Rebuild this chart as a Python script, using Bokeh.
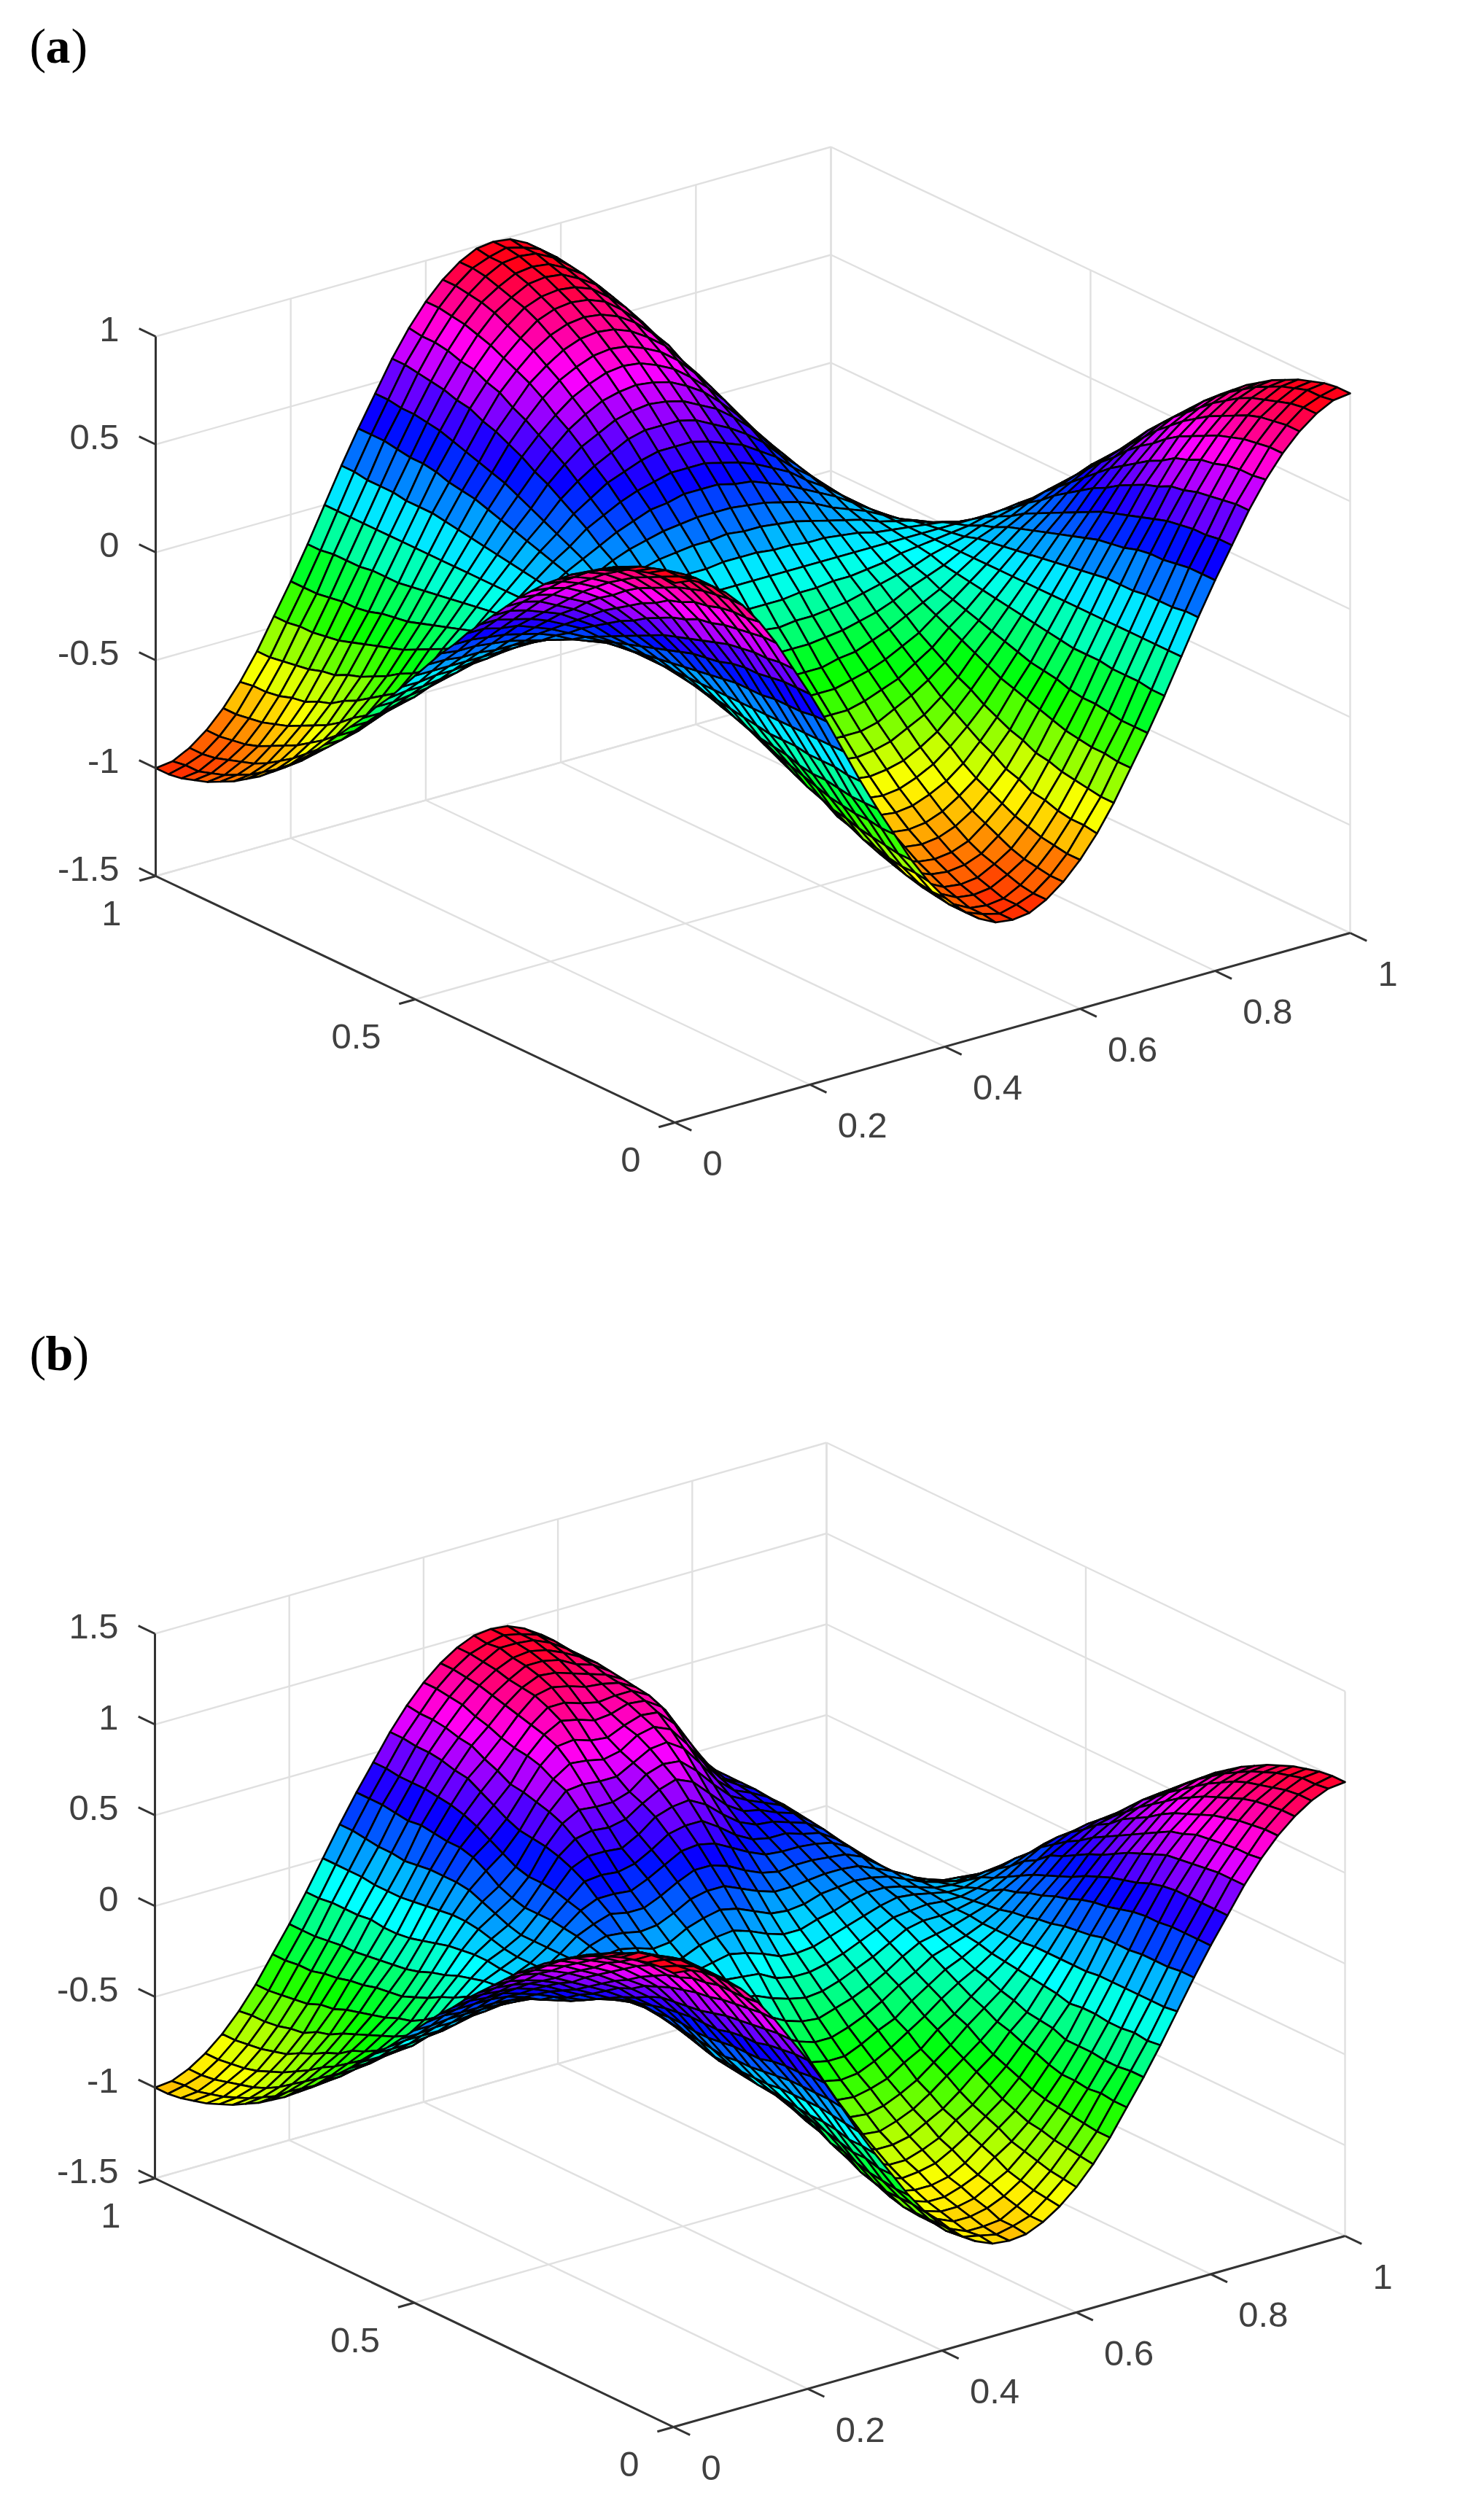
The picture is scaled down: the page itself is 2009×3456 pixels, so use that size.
import colorsys
from bokeh.plotting import figure
from bokeh.embed import file_html
from bokeh.resources import INLINE
from bokeh.models import Range1d
from bokeh.core.properties import value

X_TICKS = [0, 0.2, 0.4, 0.6, 0.8, 1]
X_LABELS = ["0", "0.2", "0.4", "0.6", "0.8", "1"]
Y_TICKS = [0, 0.5, 1]
Y_LABELS = ["0", "0.5", "1"]
Z_TICKS_A = [-1.5, -1, -0.5, 0, 0.5, 1]
Z_LABELS_A = ["-1.5", "-1", "-0.5", "0", "0.5", "1"]
Z_TICKS_B = [-1.5, -1, -0.5, 0, 0.5, 1, 1.5]
Z_LABELS_B = ["-1.5", "-1", "-0.5", "0", "0.5", "1", "1.5"]

# surface heights (hundredths), rows = y from 0 to 1, columns = x from 0 to 1
Z_A = [
[100,99,95,89,81,71,59,45,31,16,0,-16,-31,-45,-59,-71,-81,-89,-95,-99,-100,-99,-95,-89,-81,-71,-59,-45,-31,-16,0,16,31,45,59,71,81,89,95,99,100],
[100,98,95,89,81,70,59,45,31,16,0,-16,-31,-45,-59,-70,-81,-89,-95,-98,-100,-98,-95,-89,-81,-70,-59,-45,-31,-16,0,16,31,45,59,70,81,89,95,98,100],
[99,98,94,88,80,70,58,44,31,15,0,-15,-31,-44,-58,-70,-80,-88,-94,-98,-99,-98,-94,-88,-80,-70,-58,-44,-31,-15,0,15,31,44,58,70,80,88,94,98,99],
[97,96,92,87,79,69,57,44,30,15,0,-15,-30,-44,-57,-69,-79,-87,-92,-96,-97,-96,-92,-87,-79,-69,-57,-44,-30,-15,0,15,30,44,57,69,79,87,92,96,97],
[95,94,90,85,77,67,56,43,29,15,0,-15,-29,-43,-56,-67,-77,-85,-90,-94,-95,-94,-90,-85,-77,-67,-56,-43,-29,-15,0,15,29,43,56,67,77,85,90,94,95],
[92,91,88,82,75,66,54,42,29,14,0,-14,-29,-42,-54,-66,-75,-82,-88,-91,-92,-91,-88,-82,-75,-66,-54,-42,-29,-14,0,14,29,42,54,66,75,82,88,91,92],
[89,88,85,79,72,63,53,40,28,14,0,-14,-28,-40,-53,-63,-72,-79,-85,-88,-89,-88,-85,-79,-72,-63,-53,-40,-28,-14,0,14,28,40,53,63,72,79,85,88,89],
[85,84,81,76,69,61,50,38,26,14,0,-14,-26,-38,-50,-61,-69,-76,-81,-84,-85,-84,-81,-76,-69,-61,-50,-38,-26,-14,0,14,26,38,50,61,69,76,81,84,85],
[81,80,77,72,66,57,48,36,25,13,0,-13,-25,-36,-48,-57,-66,-72,-77,-80,-81,-80,-77,-72,-66,-57,-48,-36,-25,-13,0,13,25,36,48,57,66,72,77,80,81],
[76,75,72,68,62,54,45,34,24,12,0,-12,-24,-34,-45,-54,-62,-68,-72,-75,-76,-75,-72,-68,-62,-54,-45,-34,-24,-12,0,12,24,34,45,54,62,68,72,75,76],
[71,70,67,63,57,50,42,32,22,11,0,-11,-22,-32,-42,-50,-57,-63,-67,-70,-71,-70,-67,-63,-57,-50,-42,-32,-22,-11,0,11,22,32,42,50,57,63,67,70,71],
[65,64,62,58,53,46,38,29,20,10,0,-10,-20,-29,-38,-46,-53,-58,-62,-64,-65,-64,-62,-58,-53,-46,-38,-29,-20,-10,0,10,20,29,38,46,53,58,62,64,65],
[59,58,56,52,48,42,35,26,18,9,0,-9,-18,-26,-35,-42,-48,-52,-56,-58,-59,-58,-56,-52,-48,-42,-35,-26,-18,-9,0,9,18,26,35,42,48,52,56,58,59],
[52,52,50,46,42,37,31,23,16,8,0,-8,-16,-23,-31,-37,-42,-46,-50,-52,-52,-52,-50,-46,-42,-37,-31,-23,-16,-8,0,8,16,23,31,37,42,46,50,52,52],
[45,45,43,40,37,32,27,20,14,7,0,-7,-14,-20,-27,-32,-37,-40,-43,-45,-45,-45,-43,-40,-37,-32,-27,-20,-14,-7,0,7,14,20,27,32,37,40,43,45,45],
[38,38,36,34,31,27,23,17,12,6,0,-6,-12,-17,-23,-27,-31,-34,-36,-38,-38,-38,-36,-34,-31,-27,-23,-17,-12,-6,0,6,12,17,23,27,31,34,36,38,38],
[31,31,29,28,25,22,18,14,10,5,0,-5,-10,-14,-18,-22,-25,-28,-29,-31,-31,-31,-29,-28,-25,-22,-18,-14,-10,-5,0,5,10,14,18,22,25,28,29,31,31],
[23,23,22,21,19,17,14,10,7,4,0,-4,-7,-10,-14,-17,-19,-21,-22,-23,-23,-23,-22,-21,-19,-17,-14,-10,-7,-4,0,4,7,10,14,17,19,21,22,23,23],
[16,15,15,14,13,11,9,7,5,2,0,-2,-5,-7,-9,-11,-13,-14,-15,-15,-16,-15,-15,-14,-13,-11,-9,-7,-5,-2,0,2,5,7,9,11,13,14,15,15,16],
[8,8,7,7,6,6,5,4,2,1,0,-1,-2,-4,-5,-6,-6,-7,-7,-8,-8,-8,-7,-7,-6,-6,-5,-4,-2,-1,0,1,2,4,5,6,6,7,7,8,8],
[0,0,0,0,0,0,0,0,0,0,0,0,0,0,0,0,0,0,0,0,0,0,0,0,0,0,0,0,0,0,0,0,0,0,0,0,0,0,0,0,0],
[-8,-8,-7,-7,-6,-6,-5,-4,-2,-1,0,1,2,4,5,6,6,7,7,8,8,8,7,7,6,6,5,4,2,1,0,-1,-2,-4,-5,-6,-6,-7,-7,-8,-8],
[-16,-15,-15,-14,-13,-11,-9,-7,-5,-2,0,2,5,7,9,11,13,14,15,15,16,15,15,14,13,11,9,7,5,2,0,-2,-5,-7,-9,-11,-13,-14,-15,-15,-16],
[-23,-23,-22,-21,-19,-17,-14,-10,-7,-4,0,4,7,10,14,17,19,21,22,23,23,23,22,21,19,17,14,10,7,4,0,-4,-7,-10,-14,-17,-19,-21,-22,-23,-23],
[-31,-31,-29,-28,-25,-22,-18,-14,-10,-5,0,5,10,14,18,22,25,28,29,31,31,31,29,28,25,22,18,14,10,5,0,-5,-10,-14,-18,-22,-25,-28,-29,-31,-31],
[-38,-38,-36,-34,-31,-27,-23,-17,-12,-6,0,6,12,17,23,27,31,34,36,38,38,38,36,34,31,27,23,17,12,6,0,-6,-12,-17,-23,-27,-31,-34,-36,-38,-38],
[-45,-45,-43,-40,-37,-32,-27,-20,-14,-7,0,7,14,20,27,32,37,40,43,45,45,45,43,40,37,32,27,20,14,7,0,-7,-14,-20,-27,-32,-37,-40,-43,-45,-45],
[-52,-52,-50,-46,-42,-37,-31,-23,-16,-8,0,8,16,23,31,37,42,46,50,52,52,52,50,46,42,37,31,23,16,8,0,-8,-16,-23,-31,-37,-42,-46,-50,-52,-52],
[-59,-58,-56,-52,-48,-42,-35,-26,-18,-9,0,9,18,26,35,42,48,52,56,58,59,58,56,52,48,42,35,26,18,9,0,-9,-18,-26,-35,-42,-48,-52,-56,-58,-59],
[-65,-64,-62,-58,-53,-46,-38,-29,-20,-10,0,10,20,29,38,46,53,58,62,64,65,64,62,58,53,46,38,29,20,10,0,-10,-20,-29,-38,-46,-53,-58,-62,-64,-65],
[-71,-70,-67,-63,-57,-50,-42,-32,-22,-11,0,11,22,32,42,50,57,63,67,70,71,70,67,63,57,50,42,32,22,11,0,-11,-22,-32,-42,-50,-57,-63,-67,-70,-71],
[-76,-75,-72,-68,-62,-54,-45,-34,-24,-12,0,12,24,34,45,54,62,68,72,75,76,75,72,68,62,54,45,34,24,12,0,-12,-24,-34,-45,-54,-62,-68,-72,-75,-76],
[-81,-80,-77,-72,-66,-57,-48,-36,-25,-13,0,13,25,36,48,57,66,72,77,80,81,80,77,72,66,57,48,36,25,13,0,-13,-25,-36,-48,-57,-66,-72,-77,-80,-81],
[-85,-84,-81,-76,-69,-61,-50,-38,-26,-14,0,14,26,38,50,61,69,76,81,84,85,84,81,76,69,61,50,38,26,14,0,-14,-26,-38,-50,-61,-69,-76,-81,-84,-85],
[-89,-88,-85,-79,-72,-63,-53,-40,-28,-14,0,14,28,40,53,63,72,79,85,88,89,88,85,79,72,63,53,40,28,14,0,-14,-28,-40,-53,-63,-72,-79,-85,-88,-89],
[-92,-91,-88,-82,-75,-66,-54,-42,-29,-14,0,14,29,42,54,66,75,82,88,91,92,91,88,82,75,66,54,42,29,14,0,-14,-29,-42,-54,-66,-75,-82,-88,-91,-92],
[-95,-94,-90,-85,-77,-67,-56,-43,-29,-15,0,15,29,43,56,67,77,85,90,94,95,94,90,85,77,67,56,43,29,15,0,-15,-29,-43,-56,-67,-77,-85,-90,-94,-95],
[-97,-96,-92,-87,-79,-69,-57,-44,-30,-15,0,15,30,44,57,69,79,87,92,96,97,96,92,87,79,69,57,44,30,15,0,-15,-30,-44,-57,-69,-79,-87,-92,-96,-97],
[-99,-98,-94,-88,-80,-70,-58,-44,-31,-15,0,15,31,44,58,70,80,88,94,98,99,98,94,88,80,70,58,44,31,15,0,-15,-31,-44,-58,-70,-80,-88,-94,-98,-99],
[-100,-98,-95,-89,-81,-70,-59,-45,-31,-16,0,16,31,45,59,70,81,89,95,98,100,98,95,89,81,70,59,45,31,16,0,-16,-31,-45,-59,-70,-81,-89,-95,-98,-100],
[-100,-99,-95,-89,-81,-71,-59,-45,-31,-16,0,16,31,45,59,71,81,89,95,99,100,99,95,89,81,71,59,45,31,16,0,-16,-31,-45,-59,-71,-81,-89,-95,-99,-100],
]

# panel (b): how far the noisy surface sits from the smooth one, estimated by eye (hundredths)
Z_B_OFFSET = [
[0,0,0,0,0,0,0,0,0,0,0,0,0,0,0,0,0,0,0,0,0,0,0,0,0,0,0,0,0,0,0,0,0,0,0,0,0,0,0,0,0],
[0,0,0,0,0,0,0,0,0,0,1,1,1,0,0,0,0,-1,-1,0,0,0,0,1,1,0,0,0,0,-1,-1,0,0,0,0,0,0,0,0,0,0],
[0,0,1,1,1,0,0,0,-1,0,1,1,1,1,0,0,-1,-1,-1,-1,0,0,1,1,1,1,0,0,-1,-1,-1,0,0,1,1,0,0,0,0,0,0],
[0,1,1,2,1,1,0,-1,-1,0,1,2,2,1,0,-1,-2,-2,-1,-1,0,1,1,2,2,1,0,-1,-2,-2,-1,0,1,1,1,0,0,0,0,0,0],
[0,1,1,2,2,1,0,-1,-2,-1,1,2,2,2,1,-1,-2,-2,-2,-1,0,1,2,2,2,1,0,-1,-2,-2,-1,0,1,2,1,1,0,0,0,0,0],
[0,0,1,1,2,1,0,-1,-2,-2,0,1,2,3,2,0,-1,-2,-2,-2,-1,1,2,3,2,1,-1,-2,-2,-2,-1,0,1,2,2,1,0,0,0,0,0],
[0,0,0,1,1,1,0,-1,-2,-2,-1,1,2,3,2,1,-1,-2,-3,-2,-1,0,2,3,3,1,0,-2,-3,-2,-1,0,1,2,2,1,0,0,0,0,0],
[0,0,0,0,1,1,1,-1,-2,-2,-2,0,1,2,3,2,0,-2,-3,-3,-1,0,2,3,3,2,0,-1,-2,-3,-2,0,1,1,2,1,0,0,0,0,0],
[0,0,-1,-1,0,1,1,0,-1,-2,-2,-1,1,2,3,2,1,-1,-2,-3,-2,0,1,3,3,2,1,-1,-2,-2,-2,-1,0,1,1,1,0,0,0,0,0],
[0,0,-1,-1,-1,0,1,1,0,-2,-3,-2,0,2,3,3,1,-1,-2,-3,-2,-1,1,2,3,3,1,0,-2,-2,-2,-1,0,1,1,0,0,0,0,0,0],
[0,0,-1,-2,-1,-1,1,2,1,-1,-2,-2,-1,1,3,3,2,0,-2,-3,-3,-1,0,2,3,3,2,0,-1,-2,-2,-1,0,0,0,0,0,0,0,0,0],
[0,0,-1,-2,-2,-1,0,2,2,1,-1,-3,-2,0,2,4,3,1,-2,-3,-3,-2,0,1,3,3,3,1,-1,-2,-2,-2,-1,0,0,0,0,0,0,0,0],
[0,0,-1,-1,-2,-2,0,1,2,2,0,-2,-3,-1,1,3,4,2,-1,-3,-3,-2,-1,1,2,4,3,1,0,-2,-3,-2,-1,-1,0,0,1,1,0,0,0],
[0,0,0,-1,-2,-2,-1,1,2,2,1,-1,-3,-2,0,3,4,3,0,-2,-4,-3,-1,0,2,3,4,2,0,-2,-3,-3,-2,-1,0,1,1,1,1,0,0],
[0,0,0,0,-1,-2,-2,0,2,3,2,0,-2,-3,-1,2,4,4,1,-2,-4,-4,-2,0,1,3,4,3,1,-1,-3,-3,-2,-1,0,1,2,1,1,0,0],
[0,0,1,1,0,-1,-2,-1,1,3,3,1,-2,-3,-2,1,3,4,2,-1,-4,-4,-3,-1,1,3,4,4,2,-1,-3,-4,-3,-1,1,2,2,2,1,0,0],
[0,0,1,1,1,0,-2,-2,0,2,3,2,-1,-3,-3,0,3,4,3,0,-3,-4,-3,-1,0,2,4,5,3,0,-2,-4,-3,-2,0,2,3,2,1,0,0],
[0,1,1,2,1,0,-1,-2,-1,1,3,3,0,-3,-3,-1,2,4,4,1,-2,-4,-4,-2,0,2,4,5,4,1,-2,-4,-4,-2,0,2,3,2,1,0,0],
[0,1,1,2,2,1,-1,-2,-2,0,2,3,2,-2,-4,-2,1,4,4,3,-1,-4,-4,-3,-1,1,3,5,4,2,-1,-3,-4,-3,-1,1,2,2,1,0,0],
[0,1,1,1,2,1,0,-2,-3,-1,2,3,3,0,-3,-3,0,3,5,4,1,-3,-5,-4,-2,1,3,5,5,3,0,-3,-4,-3,-2,0,1,1,0,0,0],
[0,0,1,1,1,1,0,-1,-3,-2,0,3,4,2,-2,-4,-2,2,4,5,2,-2,-5,-5,-2,0,3,5,5,3,0,-3,-4,-4,-2,-1,0,0,0,0,0],
[0,0,0,0,0,0,0,-1,-2,-3,-1,2,4,3,0,-4,-3,1,4,5,3,-1,-4,-5,-3,0,2,4,5,4,1,-2,-4,-4,-3,-2,-1,0,0,0,0],
[0,0,0,-1,-1,-1,0,0,-2,-3,-2,1,3,4,1,-3,-4,-1,3,5,4,1,-3,-5,-4,-1,2,4,5,4,2,-1,-4,-4,-3,-2,-1,-1,0,0,0],
[0,0,-1,-1,-2,-2,-1,0,-1,-3,-3,-1,3,4,3,-2,-4,-2,2,5,5,2,-2,-5,-5,-2,1,4,6,5,2,-1,-3,-4,-3,-2,-2,-1,0,0,0],
[0,0,-1,-2,-2,-2,-1,0,0,-2,-3,-2,1,4,4,0,-4,-3,1,4,5,3,0,-4,-5,-3,1,4,6,6,3,0,-3,-4,-4,-3,-2,-1,-1,0,0],
[0,0,-1,-2,-3,-3,-2,0,1,-1,-3,-3,0,3,5,2,-3,-4,-1,3,5,5,1,-4,-6,-4,0,3,6,6,4,1,-2,-4,-4,-3,-2,-1,-1,0,0],
[0,0,-1,-2,-3,-3,-2,-1,1,1,-2,-4,-2,2,5,4,-1,-5,-3,2,5,6,3,-2,-6,-5,-1,3,6,7,5,1,-2,-4,-4,-3,-2,-1,0,0,0],
[0,0,0,-1,-2,-3,-3,-1,1,2,0,-3,-4,0,4,5,2,-3,-5,-1,4,7,5,0,-5,-6,-2,2,6,7,5,2,-2,-4,-4,-3,-1,0,0,0,0],
[0,0,0,0,-1,-2,-3,-2,0,2,2,-1,-4,-3,2,5,4,-1,-5,-4,2,6,7,3,-3,-6,-4,1,5,7,6,3,-1,-4,-4,-2,0,1,1,0,0],
[0,0,1,1,0,-1,-2,-2,0,2,3,1,-3,-4,0,4,6,2,-3,-5,-1,5,8,6,0,-5,-5,0,4,7,6,3,0,-3,-3,-1,1,2,1,0,0],
[0,1,1,1,1,0,-1,-2,-1,1,3,3,0,-3,-3,2,5,5,0,-5,-4,3,8,8,3,-3,-6,-2,3,6,6,4,1,-2,-2,0,2,2,1,0,0],
[0,1,1,2,1,1,0,-1,-1,0,2,3,2,-1,-3,0,4,6,3,-3,-5,0,6,9,6,0,-5,-4,1,5,6,4,1,-1,-1,1,2,2,1,0,0],
[0,0,1,1,2,1,1,0,-1,-1,1,2,3,1,-2,-2,2,5,5,0,-4,-2,4,8,8,3,-3,-4,0,4,5,4,2,0,0,1,2,1,1,0,0],
[0,0,0,1,1,1,1,0,-1,-1,0,1,2,2,0,-2,0,3,5,2,-2,-3,1,6,8,5,0,-3,-1,2,4,4,2,1,1,1,1,1,0,0,0],
[0,0,0,0,1,1,1,1,0,-1,-1,0,1,2,1,-1,-1,2,4,3,0,-2,0,4,6,5,2,-2,-2,1,3,3,2,1,1,1,1,0,0,0,0],
[0,0,0,0,0,0,1,1,0,0,-1,-1,1,1,1,0,-1,1,2,3,1,-1,-1,2,4,4,2,-1,-1,0,2,2,2,1,0,0,0,0,0,0,0],
[0,0,0,0,0,0,0,1,0,0,-1,-1,0,1,1,0,-1,0,1,2,1,0,-1,1,3,3,2,0,-1,0,1,1,1,1,0,0,0,0,0,0,0],
[0,0,0,0,0,0,0,0,0,0,0,-1,0,0,1,0,0,0,1,1,1,0,0,0,2,2,1,0,-1,0,0,1,1,0,0,0,0,0,0,0,0],
[0,0,0,0,0,0,0,0,0,0,0,0,0,0,0,0,0,0,0,1,0,0,0,0,1,1,1,0,0,0,0,0,0,0,0,0,0,0,0,0,0],
[0,0,0,0,0,0,0,0,0,0,0,0,0,0,0,0,0,0,0,0,0,0,0,0,0,1,0,0,0,0,0,0,0,0,0,0,0,0,0,0,0],
[0,0,0,0,0,0,0,0,0,0,0,0,0,0,0,0,0,0,0,0,0,0,0,0,0,0,0,0,0,0,0,0,0,0,0,0,0,0,0,0,0],
]

GRID_COL = "#e0e0e0"
AXIS_COL = "#333333"
TEXT_COL = "#404040"
FONT = "Liberation Sans"
SERIF = "Liberation Serif"

# matlab-like hsv colormap with 64 steps
HSV64 = ["#%02x%02x%02x" % tuple(round(255 * c) for c in colorsys.hsv_to_rgb(k / 64, 1, 1)) for k in range(64)]

p = figure(width=1993, height=3440, output_backend="svg", toolbar_location=None,
           x_range=Range1d(0, 1993), y_range=Range1d(3440, 0), min_border=0,
           background_fill_color="white", border_fill_color="white", outline_line_color=None)
p.axis.visible = False
p.grid.visible = False


def panel(zrows, front, ex, ey, ez, ztop, zticks, zlabels, cmin, cmax):
    def pr(x, y, z):
        return (front[0] + x * ex[0] + y * ey[0], front[1] + x * ex[1] + y * ey[1] + (z + 1.5) * ez)

    def seg(a, b):
        pa, pb = pr(*a), pr(*b)
        return [pa[0], pb[0]], [pa[1], pb[1]]

    # back walls and floor
    grid = []
    for t in X_TICKS:
        grid.append(seg((t, 0, -1.5), (t, 1, -1.5)))
        grid.append(seg((t, 1, -1.5), (t, 1, ztop)))
    for t in Y_TICKS:
        grid.append(seg((0, t, -1.5), (1, t, -1.5)))
        grid.append(seg((1, t, -1.5), (1, t, ztop)))
    for t in zticks:
        grid.append(seg((0, 1, t), (1, 1, t)))
        grid.append(seg((1, 1, t), (1, 0, t)))
    p.multi_line([g[0] for g in grid], [g[1] for g in grid], line_color=GRID_COL, line_width=2.4)

    # surface, painted from the far corner to the near corner
    n = len(zrows)
    xs, ys, cols = [], [], []
    for j in range(n - 2, -1, -1):
        for i in range(n - 2, -1, -1):
            c = [(i, j), (i + 1, j), (i + 1, j + 1), (i, j + 1)]
            pts = [pr(a / (n - 1), b / (n - 1), zrows[b][a]) for a, b in c]
            xs.append([q[0] for q in pts])
            ys.append([q[1] for q in pts])
            k = int((zrows[j][i] - cmin) / (cmax - cmin) * 64)
            cols.append(HSV64[max(0, min(k, 63))])
    p.patches(xs, ys, fill_color=cols, line_color="black", line_width=2.6, line_join="round")

    # axes and ticks
    ax = [seg((0, 1, -1.5), (0, 1, ztop)), seg((0, 0, -1.5), (1, 0, -1.5)), seg((0, 0, -1.5), (0, 1, -1.5))]
    for t in X_TICKS:
        ax.append(seg((t, 0, -1.5), (t, -0.032, -1.5)))
    for t in Y_TICKS:
        ax.append(seg((0, t, -1.5), (-0.024, t, -1.5)))
    for t in zticks:
        ax.append(seg((0, 1, t), (0, 1.032, t)))
    p.multi_line([g[0] for g in ax], [g[1] for g in ax], line_color=AXIS_COL, line_width=3)

    # tick labels
    def labels(ticks, texts, pos, dx, dy, align):
        pts = [pos(t) for t in ticks]
        p.text([q[0] + dx for q in pts], [q[1] + dy for q in pts], text=texts, text_align=align,
               text_baseline="middle", text_color=TEXT_COL, text_font=value(FONT), text_font_size="49px")

    labels(X_TICKS, X_LABELS, lambda t: pr(t, 0, -1.5), 38, 56, "left")
    labels(Y_TICKS, Y_LABELS, lambda t: pr(0, t, -1.5), -47, 51, "right")
    labels(zticks, zlabels, lambda t: pr(0, 1, t), -50, -10, "right")


panel([[v / 100 for v in row] for row in Z_A],
      (925, 1539), (926, -260), (-712, -338), -296, 1, Z_TICKS_A, Z_LABELS_A, -1.08, 0.98)
panel([[(v + d) / 100 for v, d in zip(ra, rb)] for ra, rb in zip(Z_A, Z_B_OFFSET)],
      (923, 3328), (921, -262), (-711, -341), -249, 1.5, Z_TICKS_B, Z_LABELS_B, -1.33, 1.03)

# panel letters
PANEL_LETTERS = ["a", "b"]
for letter, mid, closing in zip(PANEL_LETTERS, [62, 1855], [97, 99]):
    p.text([40], [mid], text=["("], text_font=value(SERIF), text_font_size="68px",
           text_baseline="middle", text_color="black")
    p.text([62], [mid], text=[letter], text_font=value(SERIF), text_font_style="bold",
           text_font_size="68px", text_baseline="middle", text_color="black")
    p.text([closing], [mid], text=[")"], text_font=value(SERIF),
           text_font_size="68px", text_baseline="middle", text_color="black")

open("out.html", "w").write(file_html(p, INLINE))
